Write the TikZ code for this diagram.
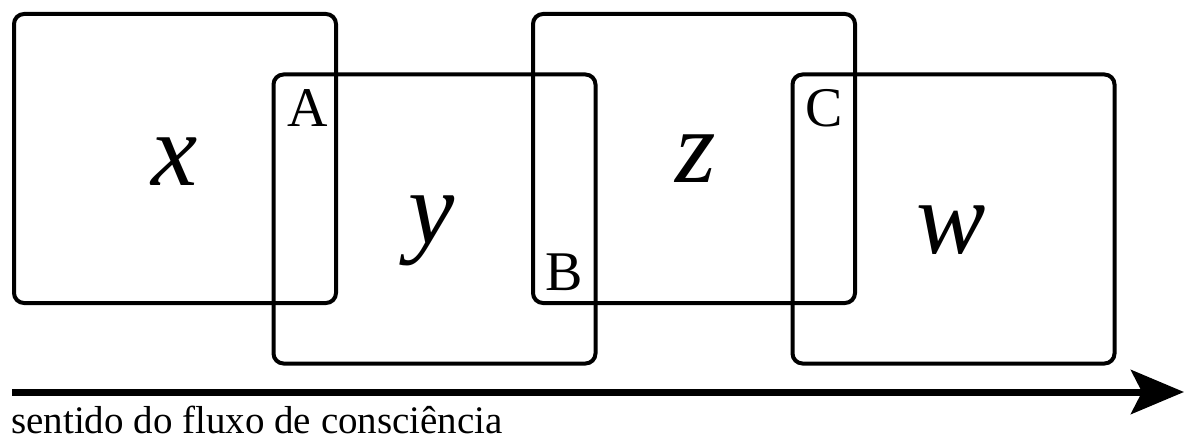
\documentclass[tikz,border=0pt]{standalone}
\usepackage{fontspec}
\setmainfont{Liberation Serif}
\usetikzlibrary{arrows.meta}
\begin{document}
\begin{tikzpicture}[x=1pt,y=-1pt,
  framebox/.style={draw, line width=4pt, rounded corners=10pt, inner sep=0pt, minimum width=322pt, minimum height=289pt},
  bigvar/.style={anchor=base, inner sep=0pt, font=\fontsize{104}{104}\selectfont\itshape},
  zonelabel/.style={anchor=base, inner sep=0pt, font=\fontsize{56}{56}\selectfont},
  caption/.style={anchor=base west, inner sep=0pt, font=\fontsize{39}{39}\selectfont}]
\useasboundingbox (0,0) rectangle (1185,441);
\node[framebox] (bx) at (175,158.5) {};
\node[framebox] (by) at (434.5,219) {};
\node[framebox] (bz) at (694,158.5) {};
\node[framebox] (bw) at (953.5,219) {};
\node[bigvar] (lx) at (175,185) {x};
\node[bigvar] (ly) at (432,243) {y};
\node[bigvar] (lz) at (696,182) {z};
\node[bigvar] (lw) at (951,253) {w};
\node[zonelabel] (la) at (308,127) {A};
\node[zonelabel] (lb) at (564,290) {B};
\node[zonelabel] (lc) at (824,127) {C};
\coordinate (s) at (12,392);
\coordinate (e) at (1184,392);
\draw[line width=7pt, -{Stealth[length=53pt, width=44pt, inset=11pt]}] (s) -- (e);
\node[caption] (cap) at (11,433) {sentido do fluxo de consciência};
\end{tikzpicture}
\end{document}
